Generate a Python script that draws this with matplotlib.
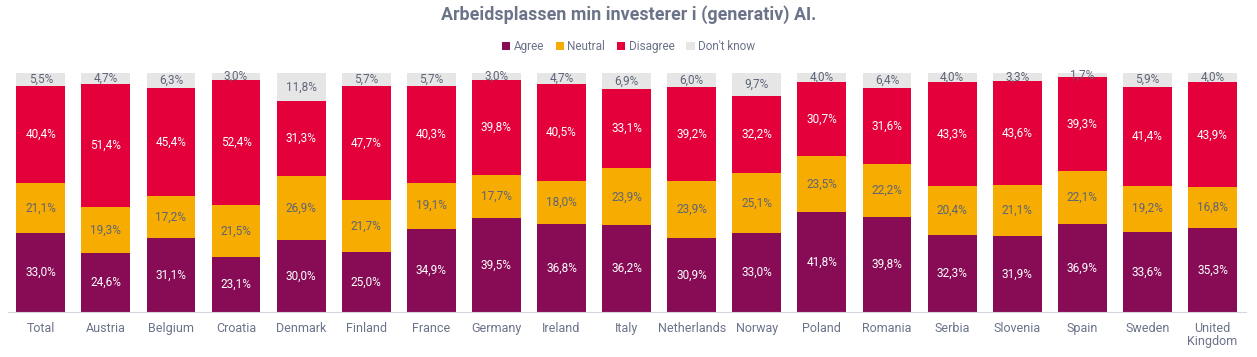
import numpy as np
import matplotlib.pyplot as plt
from matplotlib.patches import Patch

plt.rcParams['font.family'] = ['Roboto', 'DejaVu Sans']

countries = ["Total", "Austria", "Belgium", "Croatia", "Denmark", "Finland", "France",
             "Germany", "Ireland", "Italy", "Netherlands", "Norway", "Poland", "Romania",
             "Serbia", "Slovenia", "Spain", "Sweden", "United\nKingdom"]
agree = [33.0, 24.6, 31.1, 23.1, 30.0, 25.0, 34.9, 39.5, 36.8, 36.2, 30.9, 33.0, 41.8,
         39.8, 32.3, 31.9, 36.9, 33.6, 35.3]
neutral = [21.1, 19.3, 17.2, 21.5, 26.9, 21.7, 19.1, 17.7, 18.0, 23.9, 23.9, 25.1, 23.5,
           22.2, 20.4, 21.1, 22.1, 19.2, 16.8]
disagree = [40.4, 51.4, 45.4, 52.4, 31.3, 47.7, 40.3, 39.8, 40.5, 33.1, 39.2, 32.2, 30.7,
            31.6, 43.3, 43.6, 39.3, 41.4, 43.9]
dontknow = [5.5, 4.7, 6.3, 3.0, 11.8, 5.7, 5.7, 3.0, 4.7, 6.9, 6.0, 9.7, 4.0, 6.4, 4.0,
            3.3, 1.7, 5.9, 4.0]

series = [("Agree", agree, "#870C55", "white"),
          ("Neutral", neutral, "#F6AC00", "#5E6478"),
          ("Disagree", disagree, "#E3003B", "white"),
          ("Don't know", dontknow, "#E6E6E6", "#5E6478")]

text_grey = "#6B7389"

fig = plt.figure(figsize=(12.57, 3.57), dpi=100)
ax = fig.add_axes([0.006, 0.126, 0.985, 0.67])

x = np.arange(len(countries))
bottom = np.zeros(len(countries))
handles = []
for name, vals, col, tcol in series:
    vals = np.array(vals)
    ax.bar(x, vals, 0.75, bottom=bottom, color=col, linewidth=0)
    for xi, b, v in zip(x, bottom, vals):
        ax.text(xi, b + v / 2, f"{v:.1f}%".replace(".", ","), ha="center", va="center",
                fontsize=8.5, color=tcol)
    bottom += vals
    handles.append(Patch(facecolor=col, label=name))

ax.set_xlim(-0.51, 18.51)
ax.set_ylim(0, 100)
ax.set_xticks(x)
ax.set_xticklabels(countries, fontsize=9, color=text_grey, linespacing=1.05)
ax.tick_params(axis="x", length=0, pad=7)
ax.set_yticks([])
for s in ["top", "right", "left"]:
    ax.spines[s].set_visible(False)
ax.spines["bottom"].set_color("#D5D8DE")

fig.text(0.5, 0.96, "Arbeidsplassen min investerer i (generativ) AI.", ha="center",
         va="center", fontsize=12.9, fontweight="bold", color=text_grey)
fig.legend(handles=handles, loc="center", bbox_to_anchor=(0.5, 0.87), ncol=4,
           frameon=False, fontsize=8.5, handlelength=0.7, handleheight=0.7,
           handletextpad=0.3, columnspacing=1.0, labelcolor=text_grey)

fig.savefig("out.png", dpi=100)
